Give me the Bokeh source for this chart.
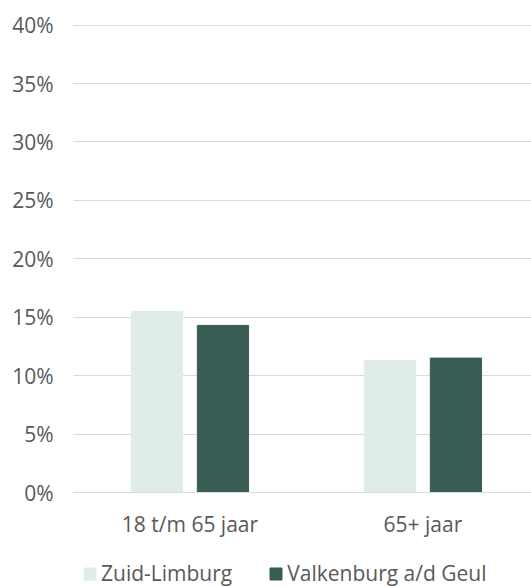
from bokeh.plotting import figure
from bokeh.layouts import column
from bokeh.models import (ColumnDataSource, FixedTicker, PrintfTickFormatter, Range1d,
                          Legend, LegendItem)
from bokeh.transform import dodge
from bokeh.embed import file_html
from bokeh.resources import INLINE

categories = ["18 t/m 65 jaar", "65+ jaar"]
zuid_limburg = [15.5, 11.3]
valkenburg = [14.3, 11.5]
series_names = ["Zuid-Limburg", "Valkenburg a/d Geul"]
y_ticks = [0, 5, 10, 15, 20, 25, 30, 35, 40]

FONT = "Open Sans"
TXT = "#595959"
GRID = "#d9d9d9"
LIGHT = "#dfece9"
DARK = "#395c54"

xpos = [i + 0.5 for i in range(len(categories))]
src = ColumnDataSource(dict(x=xpos, zl=zuid_limburg, vk=valkenburg))

p = figure(width=531, height=540, output_backend="svg", toolbar_location=None,
           x_range=Range1d(0, 1.966), y_range=Range1d(0, 40.05),
           min_border_left=73, min_border_right=0, min_border_top=24, min_border_bottom=48)
p.outline_line_color = None
p.background_fill_color = "white"
p.border_fill_color = "white"

r1 = p.vbar(x=dodge("x", -0.1416), top="zl", width=0.22, source=src,
            fill_color=LIGHT, line_color=LIGHT)
r2 = p.vbar(x=dodge("x", 0.1416), top="vk", width=0.22, source=src,
            fill_color=DARK, line_color=DARK)

p.xgrid.visible = False
p.ygrid.ticker = FixedTicker(ticks=y_ticks)
p.ygrid.grid_line_color = GRID
p.ygrid.grid_line_width = 1

ya = p.yaxis[0]
ya.ticker = FixedTicker(ticks=y_ticks)
ya.formatter = PrintfTickFormatter(format="%d%%")
ya.axis_line_color = None
ya.major_tick_line_color = None
ya.minor_tick_line_color = None
ya.major_tick_out = 0
ya.major_label_standoff = 20
ya.major_label_text_font = FONT
ya.major_label_text_font_size = "21px"
ya.major_label_text_color = TXT

xa = p.xaxis[0]
xa.ticker = FixedTicker(ticks=xpos)
xa.major_label_overrides = {x: c for x, c in zip(xpos, categories)}
xa.axis_line_color = GRID
xa.major_tick_line_color = None
xa.minor_tick_line_color = None
xa.major_tick_out = 0
xa.major_label_standoff = 17
xa.major_label_text_font = FONT
xa.major_label_text_font_size = "21px"
xa.major_label_text_color = TXT

# legend in its own strip below the chart (its bars lie outside its visible range)
lf = figure(width=531, height=47, output_backend="svg", toolbar_location=None,
            x_range=Range1d(0, 1), y_range=Range1d(100, 101),
            min_border=0, x_axis_type=None, y_axis_type=None)
lf.outline_line_color = None
lf.grid.visible = False
lf.background_fill_color = "white"
lf.border_fill_color = "white"
l1 = lf.vbar(x="x", top="zl", width=0.1, source=src, fill_color=LIGHT, line_color=LIGHT)
l2 = lf.vbar(x="x", top="vk", width=0.1, source=src, fill_color=DARK, line_color=DARK)

legend = Legend(items=[LegendItem(label=series_names[0], renderers=[l1]),
                       LegendItem(label=series_names[1], renderers=[l2])],
                orientation="horizontal", location=(9, 0),
                glyph_width=15, glyph_height=15, label_standoff=4, spacing=36,
                padding=0, margin=0, border_line_color=None, background_fill_alpha=0,
                label_text_font=FONT, label_text_font_size="21px", label_text_color=TXT)
lf.add_layout(legend, "center")

open("out.html", "w").write(file_html(column(p, lf, spacing=0), INLINE))
